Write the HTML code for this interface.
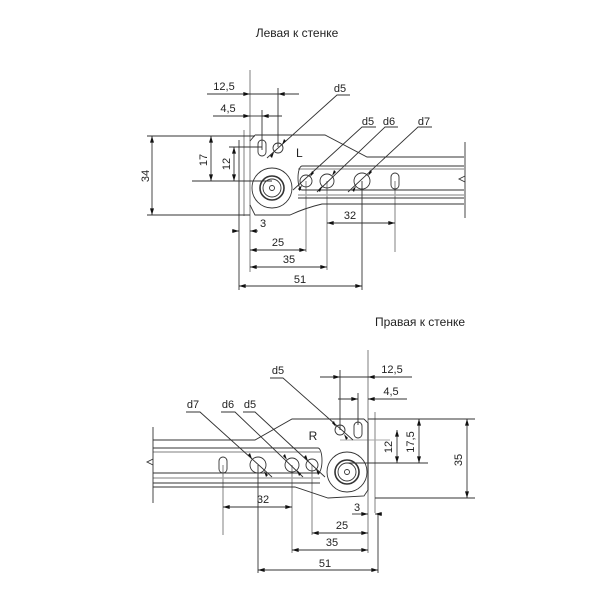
<!DOCTYPE html>
<html><head><meta charset="utf-8"><style>
html,body{margin:0;padding:0;background:#fff;width:600px;height:600px;overflow:hidden}
svg text{font-family:"Liberation Sans","DejaVu Sans",sans-serif;font-size:11px;fill:#222}
</style></head><body>
<svg width="600" height="600" viewBox="0 0 600 600" xmlns="http://www.w3.org/2000/svg">
<defs>
<marker id="a" viewBox="0 0 10 6" refX="10" refY="3" markerWidth="7" markerHeight="4" orient="auto-start-reverse" markerUnits="userSpaceOnUse"><path d="M0,0L10,3L0,6z" fill="#111"/></marker>
</defs>
<text x="297" y="37" text-anchor="middle" style="font-size:12px">Левая к стенке</text>
<text x="420" y="326" text-anchor="middle" style="font-size:12px">Правая к стенке</text>

<!-- ===== TOP (LEFT) ===== -->
<g fill="none" stroke="#aaa" stroke-width="1.5">
<line x1="298" y1="169" x2="464" y2="169"/>
<line x1="298" y1="195" x2="464" y2="195"/>
<line x1="244" y1="130" x2="244" y2="216"/>
<line x1="250" y1="70" x2="250" y2="272"/>
<line x1="306" y1="181" x2="306" y2="252"/>
<line x1="327" y1="181" x2="327" y2="270"/>
<line x1="395" y1="181" x2="395" y2="252"/>
</g>
<g fill="none" stroke="#333" stroke-width="0.9">
<line x1="239" y1="140" x2="239" y2="290"/>
<path d="M255,135 L325,135 L367,157 L464,157"/>
<path d="M250,141 L255,135"/>
<path d="M250,205 L255,215 L290,215 Q305,208 322,204 L464,204"/>
<path d="M302,166 L464,166 M302,190 L464,190 M302,166 A4,12 0 0 0 302,190"/>
<line x1="298" y1="198" x2="464" y2="198"/>
<line x1="465" y1="142" x2="465" y2="218"/>
<path d="M465,176 l-6,3 l6,3" />
<circle cx="272" cy="188" r="20"/>
<circle cx="272" cy="188" r="12" stroke-width="1.6"/>
<circle cx="272" cy="188" r="9"/>
<circle cx="272" cy="188" r="2.5"/>
<rect x="258" y="140" width="8" height="16" rx="4"/>
<circle cx="278" cy="148" r="5"/>
<circle cx="306" cy="181" r="6"/>
<circle cx="327" cy="181" r="7"/>
<circle cx="362" cy="181" r="8"/>
<rect x="391" y="173" width="8" height="16" rx="4"/>
<!-- extension lines -->
<line x1="147" y1="136" x2="255" y2="136"/>
<line x1="147" y1="215" x2="250" y2="215"/>
<line x1="192" y1="181" x2="272" y2="181"/>
<line x1="229" y1="147" x2="262" y2="147"/>
<line x1="262" y1="110" x2="262" y2="150"/>
<line x1="278" y1="88" x2="278" y2="147"/>
<line x1="362" y1="181" x2="362" y2="290"/>
<!-- dims -->
<line x1="152" y1="136" x2="152" y2="215" marker-start="url(#a)" marker-end="url(#a)"/>
<line x1="211" y1="136" x2="211" y2="181" marker-start="url(#a)" marker-end="url(#a)"/>
<line x1="234" y1="147" x2="234" y2="181" marker-start="url(#a)" marker-end="url(#a)"/>
<line x1="207" y1="94" x2="250" y2="94" marker-end="url(#a)"/>
<line x1="299" y1="94" x2="278" y2="94" marker-end="url(#a)"/>
<line x1="250" y1="94" x2="278" y2="94"/>
<line x1="213" y1="116" x2="250" y2="116" marker-end="url(#a)"/>
<line x1="282" y1="116" x2="262" y2="116" marker-end="url(#a)"/>
<line x1="250" y1="116" x2="262" y2="116"/>
<line x1="237" y1="231" x2="239" y2="231"/>
<line x1="258" y1="231" x2="250" y2="231" marker-end="url(#a)"/>
<line x1="232" y1="231" x2="239" y2="231" marker-end="url(#a)"/>
<line x1="250" y1="250" x2="306" y2="250" marker-start="url(#a)" marker-end="url(#a)"/>
<line x1="250" y1="267" x2="327" y2="267" marker-start="url(#a)" marker-end="url(#a)"/>
<line x1="239" y1="286" x2="362" y2="286" marker-start="url(#a)" marker-end="url(#a)"/>
<line x1="327" y1="223" x2="395" y2="223" marker-start="url(#a)" marker-end="url(#a)"/>
<!-- leaders -->
<path d="M350,95 L337,95 L267,158"/>
<path d="M376,127 L362,127 L293,190"/>
<path d="M398,127 L385,127 L317,192"/>
<path d="M432,127 L418,127 L348,192"/>
</g>
<g fill="#111">
<path d="M282,145 l2,-6 l2,2z M274,152 l-2,6 l-2,-2z"/>
<path d="M310,177 l2,-6 l2,2z M302,185 l-2,6 l-2,-2z"/>
<path d="M332,176 l2,-6 l2,2z M322,186 l-2,6 l-2,-2z"/>
<path d="M368,176 l2,-6 l2,2z M356,186 l-2,6 l-2,-2z"/>
</g>
<text x="296" y="157" style="font-size:12px">L</text>
<text x="340" y="92" text-anchor="middle">d5</text>
<text x="368" y="125" text-anchor="middle">d5</text>
<text x="389" y="125" text-anchor="middle">d6</text>
<text x="424" y="125" text-anchor="middle">d7</text>
<text x="224" y="90" text-anchor="middle">12,5</text>
<text x="228" y="112" text-anchor="middle">4,5</text>
<text x="263" y="227" text-anchor="middle">3</text>
<text x="278" y="246" text-anchor="middle">25</text>
<text x="289" y="263" text-anchor="middle">35</text>
<text x="300" y="283" text-anchor="middle">51</text>
<text x="350" y="219" text-anchor="middle">32</text>
<text transform="translate(149,176) rotate(-90)" text-anchor="middle">34</text>
<text transform="translate(207,160) rotate(-90)" text-anchor="middle">17</text>
<text transform="translate(230,164) rotate(-90)" text-anchor="middle">12</text>

<!-- ===== BOTTOM (RIGHT) ===== -->
<g fill="none" stroke="#aaa" stroke-width="1.5">
<line x1="153" y1="452" x2="320" y2="452"/>
<line x1="153" y1="478" x2="320" y2="478"/>
<line x1="375" y1="412" x2="375" y2="513"/>
<line x1="368" y1="350" x2="368" y2="553"/>
<line x1="223" y1="465" x2="223" y2="535"/>
<line x1="292" y1="465" x2="292" y2="553"/>
<line x1="312" y1="465" x2="312" y2="535"/>
<line x1="340" y1="440" x2="390" y2="440" stroke-width="1"/>
</g>
<g fill="none" stroke="#333" stroke-width="0.9">
<path d="M364,419 L292,419 L255,440 L153,440"/>
<path d="M364,419 L368,423 L368,490 L364,496 L328,498 Q310,492 295,487 L153,487"/>
<path d="M153,448 L318,448 M153,473 L318,473 M318,448 A4,12.5 0 0 1 318,473"/>
<line x1="153" y1="483" x2="320" y2="483"/>
<line x1="153" y1="427" x2="153" y2="503"/>
<path d="M153,459 l-6,3 l6,3"/>
<circle cx="347" cy="472" r="20"/>
<circle cx="347" cy="472" r="12" stroke-width="1.6"/>
<circle cx="347" cy="472" r="9"/>
<circle cx="347" cy="472" r="2.5"/>
<circle cx="340" cy="430" r="5"/>
<rect x="354" y="422" width="8" height="16" rx="4"/>
<circle cx="312" cy="465" r="6"/>
<circle cx="292" cy="465" r="7"/>
<circle cx="258" cy="465" r="8"/>
<rect x="219" y="457" width="8" height="16" rx="4"/>
<line x1="378" y1="513" x2="378" y2="573"/>
<line x1="258" y1="465" x2="258" y2="573"/>
<line x1="340" y1="370" x2="340" y2="430"/>
<line x1="358" y1="393" x2="358" y2="425"/>
<line x1="368" y1="419" x2="475" y2="419"/>
<line x1="375" y1="498" x2="475" y2="498"/>
<line x1="347" y1="463" x2="428" y2="463"/>
<!-- dims -->
<line x1="467" y1="419" x2="467" y2="498" marker-start="url(#a)" marker-end="url(#a)"/>
<line x1="419" y1="419" x2="419" y2="463" marker-start="url(#a)" marker-end="url(#a)"/>
<line x1="397" y1="430" x2="397" y2="463" marker-start="url(#a)" marker-end="url(#a)"/>
<line x1="320" y1="377" x2="340" y2="377" marker-end="url(#a)"/>
<line x1="412" y1="377" x2="368" y2="377" marker-end="url(#a)"/>
<line x1="340" y1="377" x2="368" y2="377"/>
<line x1="338" y1="399" x2="358" y2="399" marker-end="url(#a)"/>
<line x1="407" y1="399" x2="368" y2="399" marker-end="url(#a)"/>
<line x1="352" y1="514" x2="368" y2="514" marker-end="url(#a)"/>
<line x1="382" y1="514" x2="375" y2="514" marker-end="url(#a)"/>
<line x1="312" y1="533" x2="368" y2="533" marker-start="url(#a)" marker-end="url(#a)"/>
<line x1="292" y1="550" x2="368" y2="550" marker-start="url(#a)" marker-end="url(#a)"/>
<line x1="258" y1="570" x2="378" y2="570" marker-start="url(#a)" marker-end="url(#a)"/>
<line x1="223" y1="507" x2="292" y2="507" marker-start="url(#a)" marker-end="url(#a)"/>
<!-- leaders -->
<path d="M270,378 L283,378 L353,440"/>
<path d="M186,412 L200,412 L272,477"/>
<path d="M221,412 L235,412 L303,477"/>
<path d="M243,412 L255,412 L325,477"/>
</g>
<g fill="#111">
<path d="M336,427 l-2,-6 l-2,2z M344,434 l2,6 l2,-2z"/>
<path d="M308,461 l-2,-6 l-2,2z M316,469 l2,6 l2,-2z"/>
<path d="M287,460 l-2,-6 l-2,2z M297,470 l2,6 l2,-2z"/>
<path d="M252,459 l-2,-6 l-2,2z M264,471 l2,6 l2,-2z"/>
</g>
<text x="313" y="440" text-anchor="middle" style="font-size:12px">R</text>
<text x="278" y="374" text-anchor="middle">d5</text>
<text x="193" y="408" text-anchor="middle">d7</text>
<text x="228" y="408" text-anchor="middle">d6</text>
<text x="250" y="408" text-anchor="middle">d5</text>
<text x="392" y="373" text-anchor="middle">12,5</text>
<text x="391" y="395" text-anchor="middle">4,5</text>
<text x="357" y="511" text-anchor="middle">3</text>
<text x="342" y="529" text-anchor="middle">25</text>
<text x="332" y="546" text-anchor="middle">35</text>
<text x="325" y="567" text-anchor="middle">51</text>
<text x="263" y="503" text-anchor="middle">32</text>
<text transform="translate(462,460) rotate(-90)" text-anchor="middle">35</text>
<text transform="translate(414,442) rotate(-90)" text-anchor="middle">17,5</text>
<text transform="translate(392,447) rotate(-90)" text-anchor="middle">12</text>
</svg>
</body></html>
